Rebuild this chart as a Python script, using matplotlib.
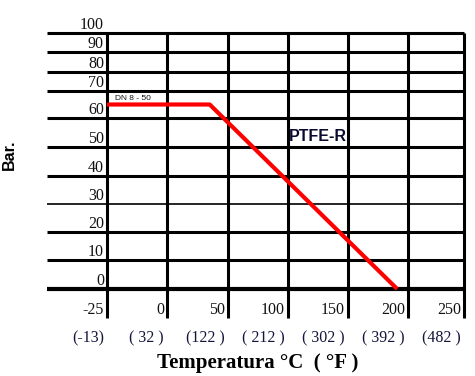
import numpy as np
import matplotlib
matplotlib.use("Agg")
import matplotlib.pyplot as plt
from matplotlib.transforms import offset_copy

# ---- data ----
y_ticks = [0, 10, 20, 30, 40, 50, 60, 70, 80, 90, 100]
x_ticks = [-25, 0, 50, 100, 150, 200, 250]
x_ticks_f = ["(-13)", "( 32 )", "(122 )", "( 212 )", "( 302 )", "( 392 )", "(482 )"]
curve_t = [-25, 35, 191]
curve_p = [65, 65, 0]
curve_label = "DN 8 - 50"
material = "PTFE-R"

# ---- non-uniform chart grid (positions as drawn in the original) ----
y_pos = [0, 29, 57, 85, 113, 142, 171, 198, 217, 237, 256]
x_pos = [0, 60, 121, 181, 241, 301, 357]


def make_funcs(vals, pos):
    vals = np.asarray(vals, float)
    pos = np.asarray(pos, float)

    def interp(v, a, b):
        v = np.asarray(v, float)
        out = np.interp(v, a, b)
        lo = v < a[0]
        hi = v > a[-1]
        out = np.where(lo, b[0] + (v - a[0]) * (b[1] - b[0]) / (a[1] - a[0]), out)
        out = np.where(hi, b[-1] + (v - a[-1]) * (b[-1] - b[-2]) / (a[-1] - a[-2]), out)
        return out

    return (lambda v: interp(v, vals, pos)), (lambda p: interp(p, pos, vals))


W, H = 475, 376
fig = plt.figure(figsize=(W / 100, H / 100), dpi=100)
ax = fig.add_axes([107 / W, (H - 289) / H, 357 / W, 256 / H])
ax.set_xscale("function", functions=make_funcs(x_ticks, x_pos))
ax.set_yscale("function", functions=make_funcs(y_ticks, y_pos))
ax.set_xlim(x_ticks[0], x_ticks[-1])
ax.set_ylim(y_ticks[0], y_ticks[-1])
for s in ax.spines.values():
    s.set_visible(False)
ax.set_xticks([])
ax.set_yticks([])
ax.patch.set_alpha(0)

ytr = ax.get_yaxis_transform()
xtr = ax.get_xaxis_transform()

# horizontal lines
for y in y_ticks:
    lw = 2.2
    if y == 30:
        lw = 1.2
    if y == 0:
        lw = 3.0
    ax.plot([-60 / 357, 1], [y, y], transform=ytr, color="black", lw=lw,
            clip_on=False, solid_capstyle="butt", zorder=2)

# vertical lines
for x in x_ticks:
    ax.plot([x, x], [-29 / 256, 1], transform=xtr, color="black", lw=2.2,
            clip_on=False, solid_capstyle="butt", zorder=2)

# curve
ax.plot(curve_t, curve_p, color="#ff0000", lw=3.0, zorder=4,
        solid_capstyle="butt", clip_on=False)

serif = ["Liberation Serif", "DejaVu Serif"]
sans = ["Liberation Sans", "DejaVu Sans"]

# y tick labels
for y in y_ticks:
    tr = offset_copy(ytr, fig=fig, x=-3, y=4, units="dots")
    ax.text(0, y, str(y), transform=tr, ha="right", va="baseline",
            family=serif, fontsize=11.5, color="#111111")

# x tick labels (C and F)
for x, f in zip(x_ticks, x_ticks_f):
    tr1 = offset_copy(xtr, fig=fig, x=-3, y=-25, units="dots")
    ax.text(x, 0, str(x), transform=tr1, ha="right", va="baseline",
            family=serif, fontsize=11.5, color="#111111")
    tr2 = offset_copy(xtr, fig=fig, x=-3, y=-53, units="dots")
    ax.text(x, 0, f, transform=tr2, ha="right", va="baseline",
            family=serif, fontsize=11.5, color="#14143c")

# annotations
ax.text(-21.7, 67.4, curve_label, ha="left", va="center", family=sans,
        fontsize=6, color="#111111", zorder=5)
ax.text(101, 53.5, material, ha="left", va="center", family=sans,
        fontsize=11.5, fontweight="bold", color="#0a0a30", zorder=5)

# axis titles
fig.text(258 / W, 1 - 368 / H, "Temperatura °C  ( °F )", ha="center",
         va="baseline", family=serif, fontsize=15, fontweight="bold")
fig.text(9 / W, 1 - 155 / H, "Bar.", rotation=90, ha="center", va="center",
         family=sans, fontsize=11.5, fontweight="bold")

fig.savefig("out.png", dpi=100)
